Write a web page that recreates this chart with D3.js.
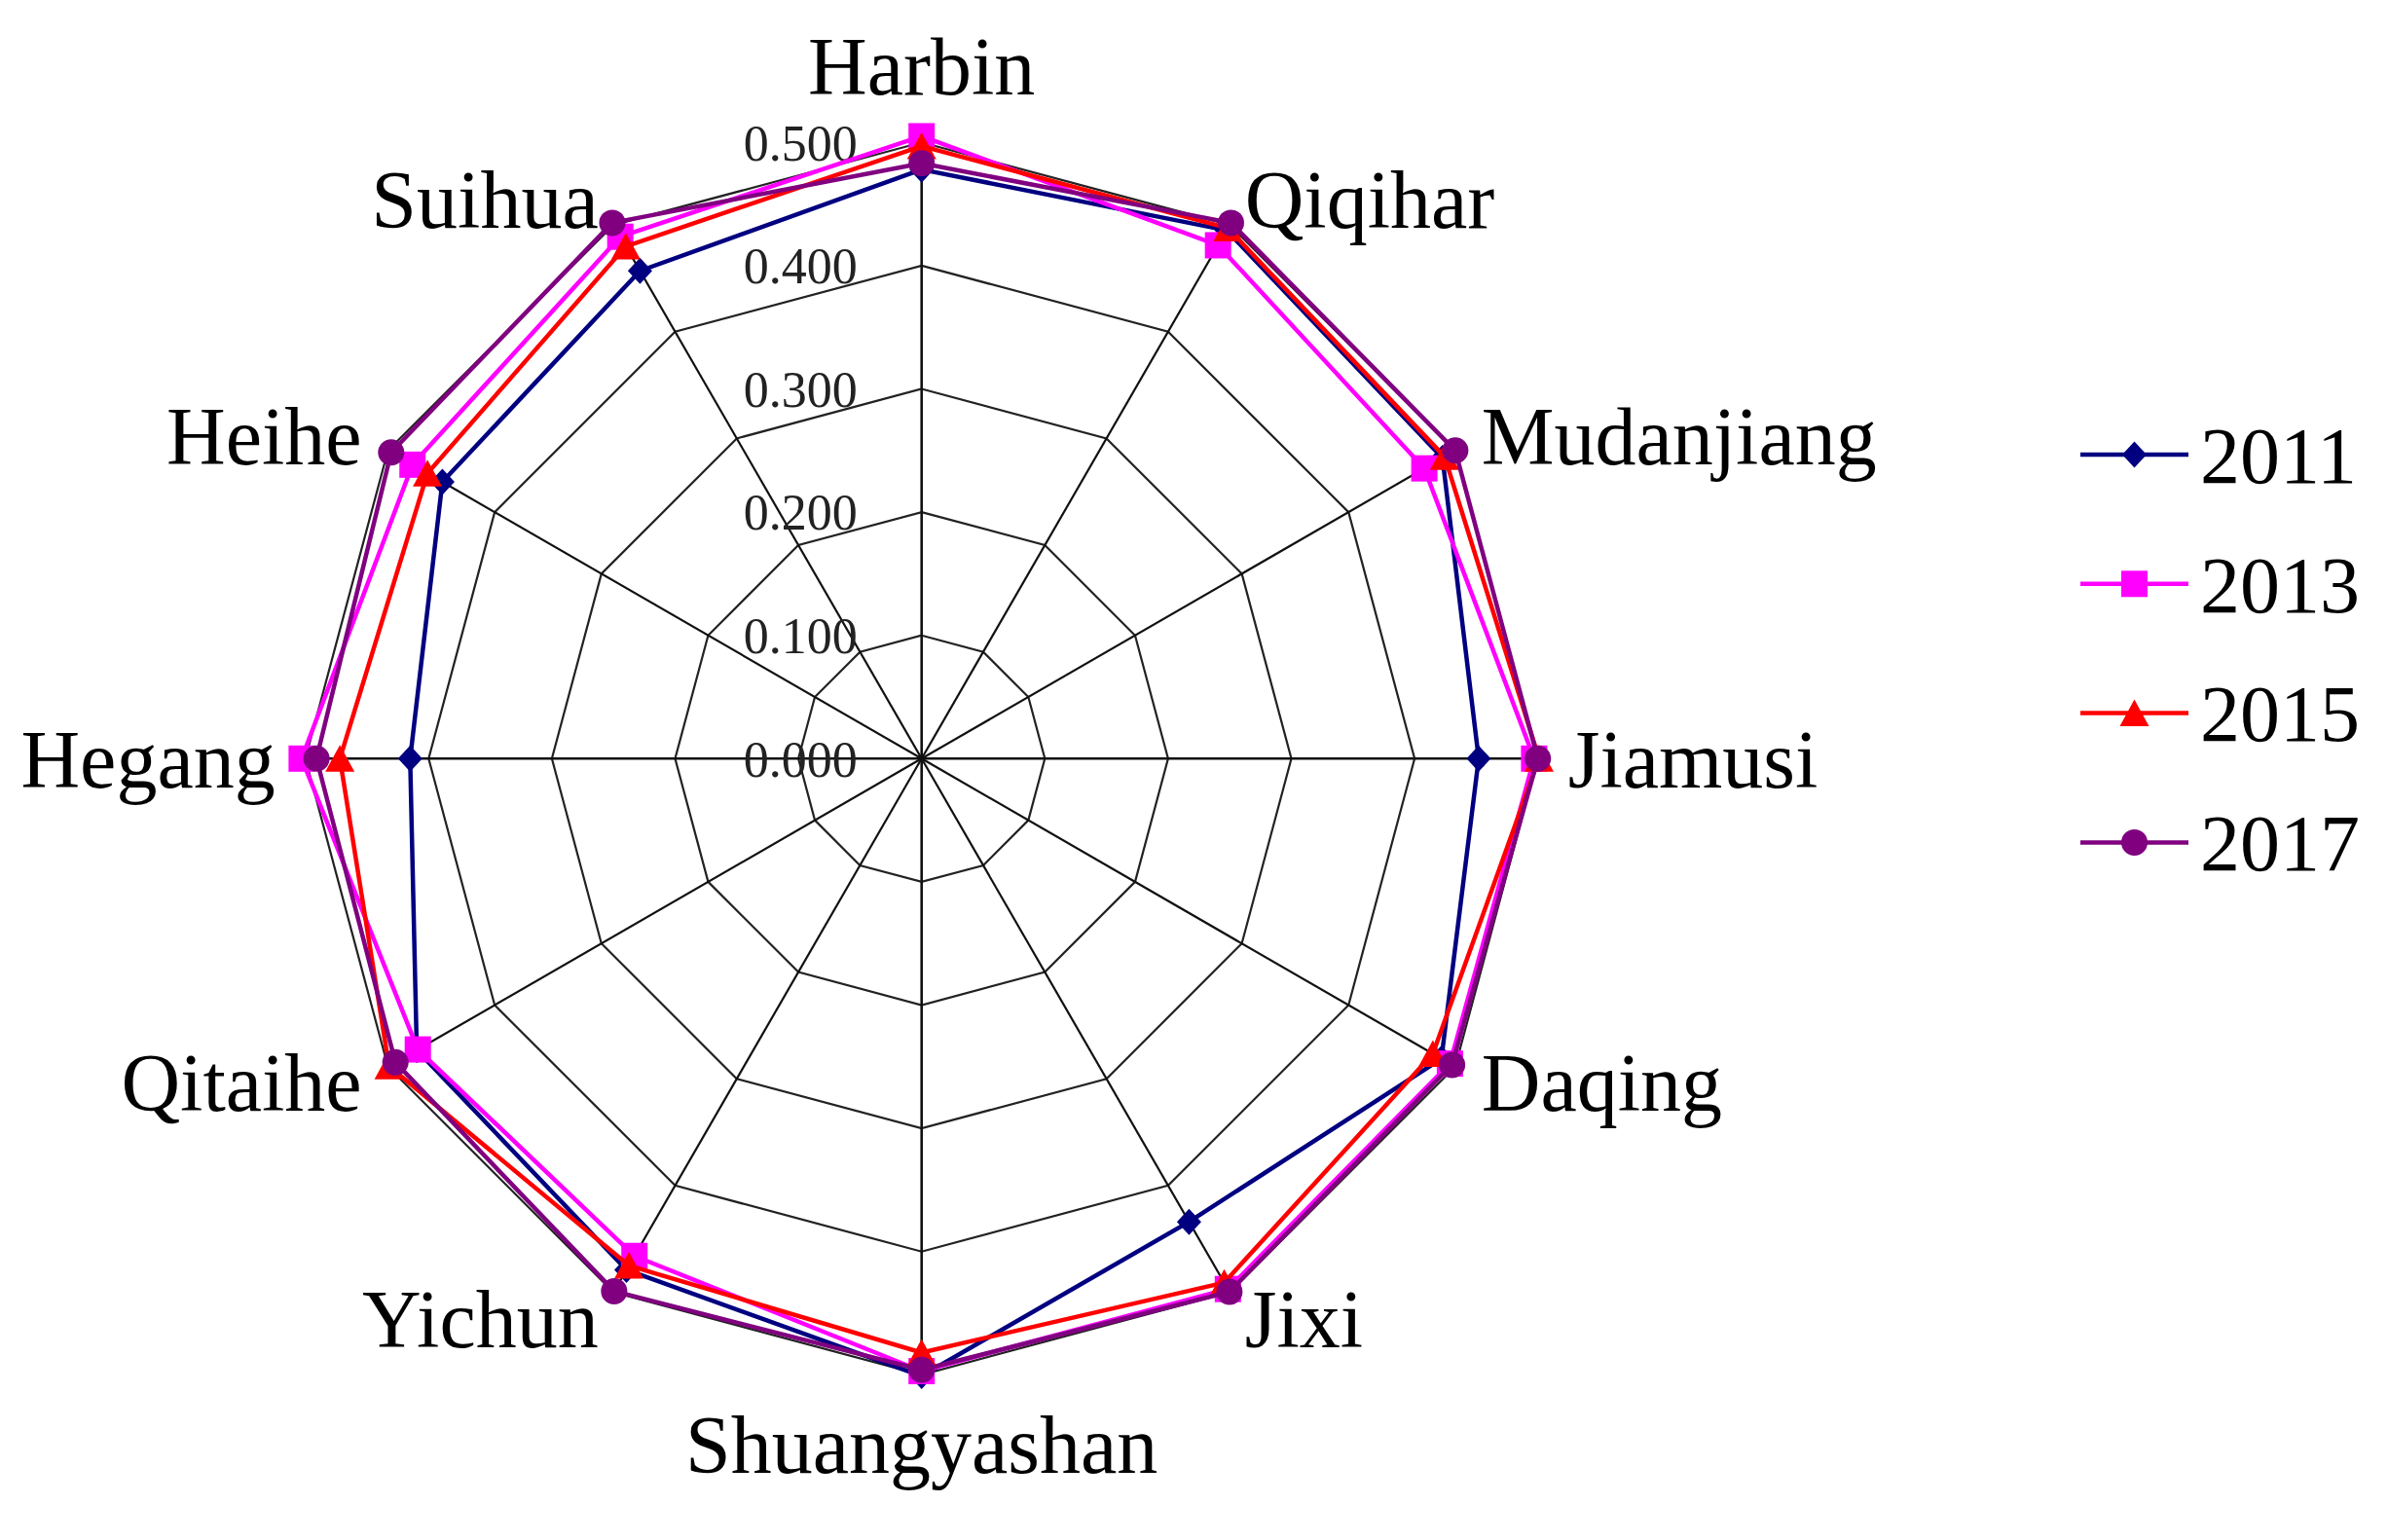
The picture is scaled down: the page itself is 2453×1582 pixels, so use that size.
<!DOCTYPE html>
<html>
<head>
<meta charset="utf-8">
<script type="text/javascript" src="https://cdn.jsdelivr.net/npm/d3@7"></script>
<style>
  body { margin: 0; background: #fff; }
  text { font-family: "Liberation Serif", "Times New Roman", serif; fill: #000; }
</style>
</head>
<body>
<div id="chart"></div>
<script type="text/javascript">

// cities round the radar, clockwise from the top
var categories = ["Harbin", "Qiqihar", "Mudanjiang", "Jiamusi", "Daqing", "Jixi",
                  "Shuangyashan", "Yichun", "Qitaihe", "Hegang", "Heihe", "Suihua"];

var years = ["2011", "2013", "2015", "2017"];

var values2011 = [0.478, 0.495, 0.488, 0.452, 0.487, 0.434, 0.501, 0.479, 0.473, 0.415, 0.449, 0.457];
var values2013 = [0.505, 0.481, 0.471, 0.497, 0.495, 0.497, 0.497, 0.466, 0.472, 0.503, 0.477, 0.489];
var values2015 = [0.497, 0.497, 0.490, 0.501, 0.479, 0.491, 0.482, 0.475, 0.499, 0.472, 0.463, 0.480];
var values2017 = [0.483, 0.502, 0.500, 0.500, 0.497, 0.4995, 0.496, 0.499, 0.493, 0.491, 0.497, 0.502];

var tickValues = [0, 0.1, 0.2, 0.3, 0.4, 0.5];

var colors = ["#000080", "#ff00ff", "#ff0000", "#800080"];

var width = 2453, height = 1582;
var cx = 946.7, cy = 779.3, R = 633;

var svg = d3.select("#chart")
    .append("svg")
    .attr("width", width)
    .attr("height", height);

var r = d3.scaleLinear().domain([0, 0.5]).range([0, R]);
var angle = d3.scaleLinear().domain([0, categories.length]).range([0, 2 * Math.PI]);

function px(i, v) { return cx + r(v) * Math.sin(angle(i)); }
function py(i, v) { return cy - r(v) * Math.cos(angle(i)); }

// marker shapes, sized like the excel ones
var diamond = { draw: function(ctx) {
    ctx.moveTo(0, -13.5); ctx.lineTo(12.5, 0); ctx.lineTo(0, 13.5); ctx.lineTo(-12.5, 0); ctx.closePath();
}};
var square = { draw: function(ctx) {
    ctx.rect(-13.5, -13.5, 27, 27);
}};
var triangle = { draw: function(ctx) {
    ctx.moveTo(0, -14); ctx.lineTo(15, 13.5); ctx.lineTo(-15, 13.5); ctx.closePath();
}};
var circle = { draw: function(ctx) {
    ctx.moveTo(13.5, 0); ctx.arc(0, 0, 13.5, 0, 2 * Math.PI);
}};
var shapes = [diamond, square, triangle, circle];

var series = [values2011, values2013, values2015, values2017].map(function(vals, k) {
    return { year: years[k], values: vals, color: colors[k], shape: shapes[k] };
});

var grid = svg.append("g");

// rings
grid.selectAll("polygon")
    .data(tickValues.slice(1))
    .enter().append("polygon")
    .attr("points", function(t) {
        return categories.map(function(c, i) { return px(i, t) + "," + py(i, t); }).join(" ");
    })
    .style("fill", "none")
    .style("stroke", "#222")
    .style("stroke-width", 2.2);

// spokes
grid.selectAll("line")
    .data(categories)
    .enter().append("line")
    .attr("x1", cx).attr("y1", cy)
    .attr("x2", function(c, i) { return px(i, 0.5); })
    .attr("y2", function(c, i) { return py(i, 0.5); })
    .style("stroke", "#111")
    .style("stroke-width", function(c, i) { return i % 3 == 0 ? 2.6 : 2.2; });

// tick labels
svg.append("g").selectAll("text")
    .data(tickValues)
    .enter().append("text")
    .attr("x", cx - 66)
    .attr("y", function(t) { return cy - r(t); })
    .attr("dy", "0.35em")
    .attr("text-anchor", "end")
    .style("font-size", "52px")
    .style("fill", "#222")
    .text(d3.format(".3f"));

// category labels
svg.append("g").selectAll("text")
    .data(categories)
    .enter().append("text")
    .attr("x", function(c, i) {
        if (i == 0 || i == 6) return cx;
        return cx + (R + 31) * Math.sin(angle(i));
    })
    .attr("y", function(c, i) {
        if (i == 0) return cy - R - 49;
        if (i == 6) return cy + R + 101;
        return cy - (R + 31) * Math.cos(angle(i));
    })
    .attr("dy", function(c, i) { return (i == 0 || i == 6) ? null : "0.35em"; })
    .attr("text-anchor", function(c, i) {
        if (i == 0 || i == 6) return "middle";
        return i < 6 ? "start" : "end";
    })
    .style("font-size", "84px")
    .text(function(c) { return c; });

// the series: line then markers
var radial = d3.lineRadial()
    .angle(function(v, i) { return angle(i); })
    .radius(function(v) { return r(v); })
    .curve(d3.curveLinearClosed);

var sg = svg.selectAll("g.series")
    .data(series)
    .enter().append("g")
    .attr("class", "series");

sg.append("path")
    .attr("transform", "translate(" + cx + "," + cy + ")")
    .attr("d", function(s) { return radial(s.values); })
    .style("fill", "none")
    .style("stroke", function(s) { return s.color; })
    .style("stroke-width", 4.5)
    .style("stroke-linejoin", "round");

sg.each(function(s) {
    d3.select(this).selectAll("path.mark")
        .data(s.values)
        .enter().append("path")
        .attr("class", "mark")
        .attr("transform", function(v, i) { return "translate(" + px(i, v) + "," + py(i, v) + ")"; })
        .attr("d", d3.symbol().type(s.shape))
        .style("fill", s.color);
});

// legend
var legend = svg.append("g").selectAll("g")
    .data(series)
    .enter().append("g")
    .attr("transform", function(s, k) { return "translate(2137," + (467 + k * 132.8) + ")"; });

legend.append("line")
    .attr("x1", 0).attr("x2", 111)
    .style("stroke", function(s) { return s.color; })
    .style("stroke-width", 4.5);

legend.append("path")
    .attr("transform", "translate(55.5,0)")
    .attr("d", function(s) { return d3.symbol().type(s.shape)(); })
    .style("fill", function(s) { return s.color; });

legend.append("text")
    .attr("x", 123)
    .attr("dy", "0.35em")
    .style("font-size", "82px")
    .text(function(s) { return s.year; });

</script>
</body>
</html>
